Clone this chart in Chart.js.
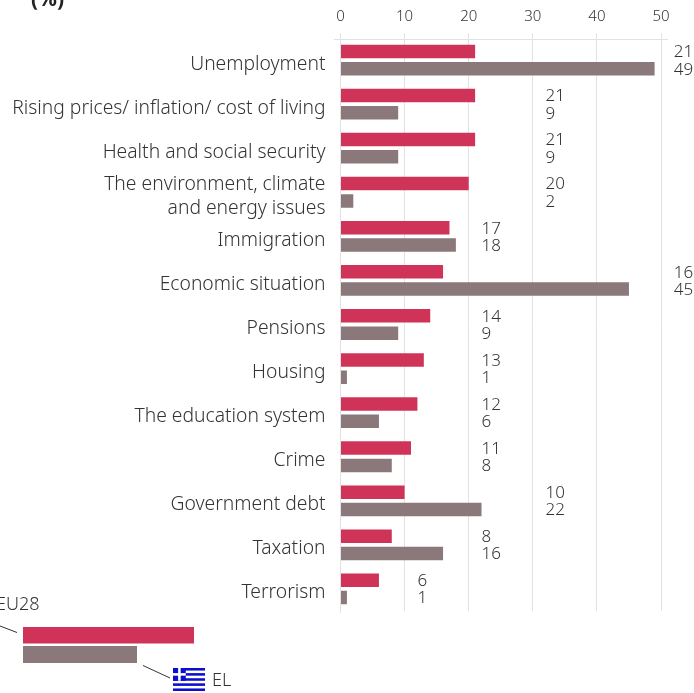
<!DOCTYPE html>
<html>
<head>
<meta charset="utf-8">
<script src="https://cdn.jsdelivr.net/npm/chart.js@4"></script>
<style>
  html, body { margin: 0; padding: 0; background: #fff; overflow: hidden; }
  canvas { display: block; }
</style>
</head>
<body>
<canvas id="chart" width="694" height="693"></canvas>
<script>
const categories = [
    'Unemployment',
    'Rising prices/ inflation/ cost of living',
    'Health and social security',
    ['The environment, climate', 'and energy issues'],
    'Immigration',
    'Economic situation',
    'Pensions',
    'Housing',
    'The education system',
    'Crime',
    'Government debt',
    'Taxation',
    'Terrorism'
];
const eu28Values = [21, 21, 21, 20, 17, 16, 14, 13, 12, 11, 10, 8, 6];
const elValues = [49, 9, 9, 2, 18, 45, 9, 1, 6, 8, 22, 16, 1];
const xTicks = [0, 10, 20, 30, 40, 50];

const RED = '#cf3458';
const GREY = '#8a787b';
const TEXT = '#333333';
const GRID = '#e2e2e2';
const FONT = '"Noto Sans"';

// value labels, title, legend and flag sit outside the bars
const annotations = {
    id: 'annotations',
    beforeDraw(chart) {
        // category labels sit a little below the middle of each band
        chart.scales.y.getLabelItems().forEach(item => {
            item.options.translation[1] += 4;
        });
    },
    afterDatasetsDraw(chart) {
        const { ctx, scales } = chart;
        const x = scales.x;
        ctx.save();

        // line under the ticks
        ctx.strokeStyle = GRID;
        ctx.lineWidth = 1;
        ctx.beginPath();
        ctx.moveTo(334, 39.5);
        ctx.lineTo(668, 39.5);
        ctx.moveTo(340.5, 610);
        ctx.lineTo(340.5, 613);
        ctx.stroke();

        // value labels, in columns just past the next gridline
        ctx.font = '300 17px ' + FONT;
        ctx.fillStyle = TEXT;
        ctx.textAlign = 'left';
        ctx.textBaseline = 'middle';
        const redBars = chart.getDatasetMeta(0).data;
        const greyBars = chart.getDatasetMeta(1).data;
        eu28Values.forEach((v, i) => {
            const top = Math.max(v, elValues[i]);
            const col = x.getPixelForValue(Math.floor(top / 10) * 10 + 12);
            ctx.fillText(String(v), col, redBars[i].y + 1);
            ctx.fillText(String(elValues[i]), col, greyBars[i].y + 1);
        });

        // cropped title
        ctx.font = 'bold 21px ' + FONT;
        ctx.fillStyle = '#222';
        ctx.fillText('(%)', 31, 0);

        // legend
        ctx.fillStyle = RED;
        ctx.fillRect(23, 627, 171, 16.5);
        ctx.fillStyle = GREY;
        ctx.fillRect(23, 646, 114, 17);

        ctx.strokeStyle = '#333';
        ctx.beginPath();
        ctx.moveTo(0, 626);
        ctx.lineTo(17, 632.5);
        ctx.moveTo(143, 665.5);
        ctx.lineTo(170, 678);
        ctx.stroke();

        ctx.font = '300 18px ' + FONT;
        ctx.fillStyle = TEXT;
        ctx.fillText('EU28', -4, 604.5);
        ctx.fillText('EL', 212, 681);

        drawFlag(ctx, 173, 668, 32, 23);
        ctx.restore();
    }
};

function drawFlag(ctx, fx, fy, w, h) {
    const stripe = h / 9;
    ctx.fillStyle = '#fff';
    ctx.fillRect(fx, fy, w, h);
    ctx.fillStyle = '#0d0dcf';
    for (let i = 0; i < 9; i += 2) {
        ctx.fillRect(fx, fy + i * stripe, w, stripe);
    }
    ctx.fillRect(fx, fy, stripe * 5, stripe * 5);
    ctx.fillStyle = '#fff';
    ctx.fillRect(fx + stripe * 2, fy, stripe, stripe * 5);
    ctx.fillRect(fx, fy + stripe * 2, stripe * 5, stripe);
}

new Chart(document.getElementById('chart').getContext('2d'), {
    type: 'bar',
    data: {
        labels: categories,
        datasets: [
            { label: 'EU28', data: eu28Values, backgroundColor: RED },
            { label: 'EL', data: elValues, backgroundColor: GREY }
        ]
    },
    options: {
        indexAxis: 'y',
        responsive: false,
        animation: false,
        devicePixelRatio: 1,
        categoryPercentage: 0.785,
        barPercentage: 0.78,
        layout: { padding: { left: 0, right: 33, top: 0, bottom: 82 } },
        plugins: {
            legend: { display: false },
            title: { display: false },
            tooltip: { enabled: false }
        },
        scales: {
            x: {
                position: 'top',
                min: 0,
                max: 50,
                afterFit(scale) { scale.height = 38; },
                afterBuildTicks(scale) { scale.ticks = xTicks.map(v => ({ value: v })); },
                border: { display: false },
                grid: { color: GRID, tickLength: 5, tickColor: GRID },
                ticks: {
                    color: TEXT,
                    padding: 7,
                    maxRotation: 0,
                    font: { family: FONT, size: 15, weight: '300' }
                }
            },
            y: {
                afterFit(scale) { scale.width = 340.5; },
                border: { display: false },
                grid: { display: false },
                ticks: {
                    color: TEXT,
                    padding: 7,
                    autoSkip: false,
                    font: { family: FONT, size: 19.3, weight: '300', lineHeight: 1.25 }
                }
            }
        }
    },
    plugins: [annotations]
});
</script>
</body>
</html>
